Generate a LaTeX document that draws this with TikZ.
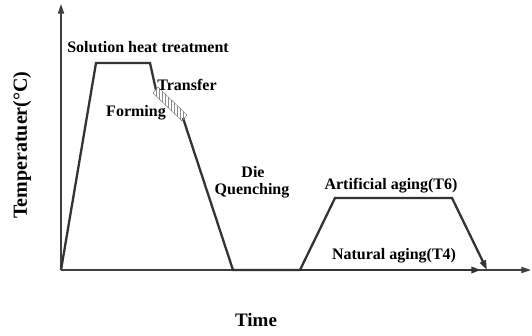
\documentclass[tikz,border=0pt]{standalone}
\usepackage{fontspec}
\setmainfont{Liberation Serif}
\usetikzlibrary{arrows.meta,patterns}

\begin{document}
\begin{tikzpicture}[x=1pt,y=-1pt,>={Triangle[length=3.4mm,width=2.2mm]},every node/.style={font=\bfseries\fontsize{16}{18}\selectfont,inner sep=0pt},axis/.style={line width=1.1pt,draw=black!75},curve/.style={line width=2.3pt,draw=black!80,line join=miter}]
\useasboundingbox (0,0) rectangle (532,335);
% axes
\coordinate (O) at (61,270);
\coordinate (ytop) at (61,4);
\coordinate (xend) at (531,270);
\draw[axis,->] (O)--(ytop);
\draw[axis,->] (O)--(xend);
% solution treatment, transfer, quenching
\coordinate (a) at (96,63);
\coordinate (b) at (150,63);
\coordinate (c) at (156,90);
\coordinate (d) at (183,118);
\coordinate (e) at (233,270);
\coordinate (f) at (300,270);
\coordinate (g) at (335,198);
\coordinate (h) at (452,198);
\coordinate (i) at (487,270);
\coordinate (j) at (481,270);
\draw[curve] (O)--(a)--(b)--(c);
\draw[curve] (d)--(e)--(f);
\draw[draw=black!55,pattern=vertical lines,pattern color=black!45] (153,93)--(158,87)--(187,115)--(182,121)--cycle;
% aging
\draw[curve,->] (f)--(g)--(h)--(i);
\draw[curve,->] (f)--(j);
% labels
\node (sht) at (148,47) {Solution heat treatment};
\node (trans) at (187,85) {Transfer};
\node (form) at (136,113) {Forming};
\node (die) at (253,172) {Die};
\node (quen) at (252,191) {Quenching};
\node (t6) at (391,186) {Artificial aging(T6)};
\node (t4) at (394,256) {Natural aging(T4)};
\node[font=\bfseries\fontsize{20}{22}\selectfont,rotate=90] (temp) at (22,145) {Temperatuer(°C)};
\node[font=\bfseries\fontsize{19}{21}\selectfont] (time) at (256,320) {Time};
\end{tikzpicture}
\end{document}
